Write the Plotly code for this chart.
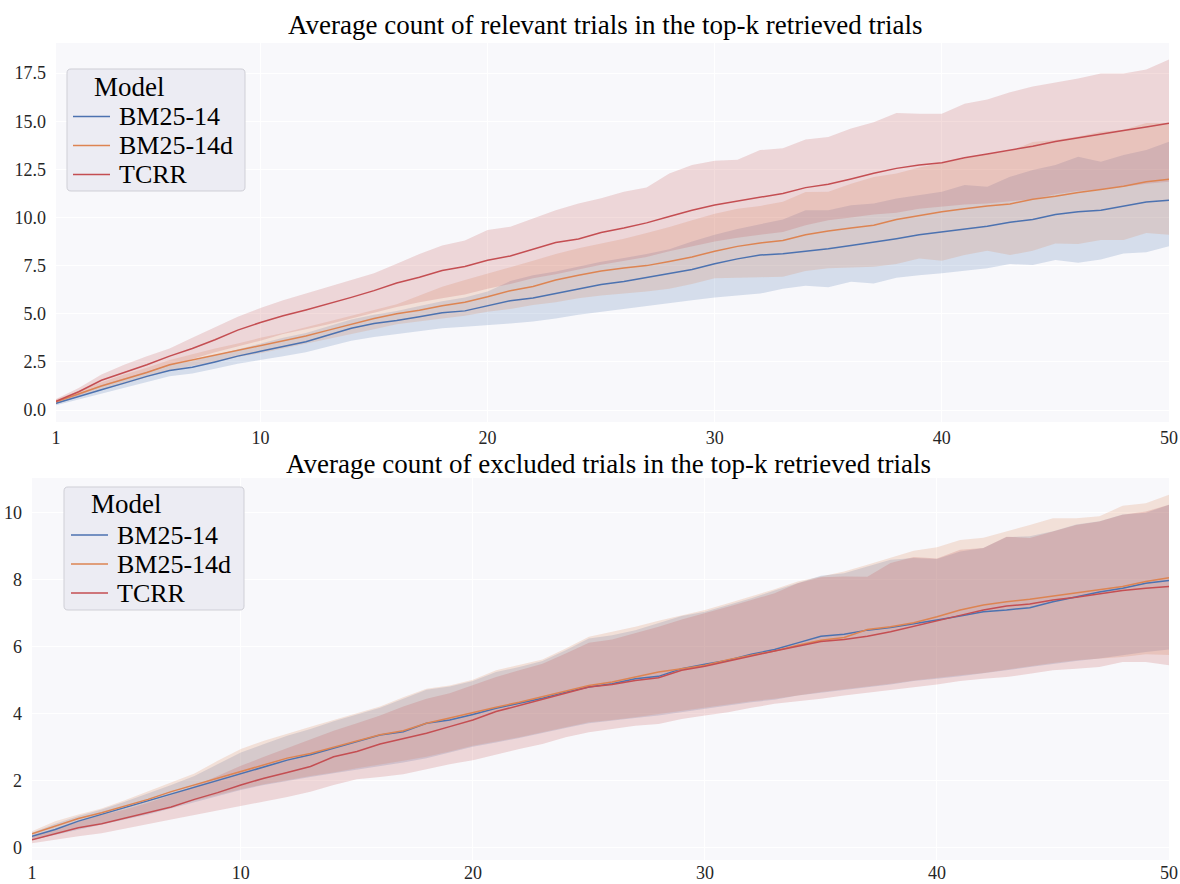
import plotly.graph_objects as go

# ---------------------------------------------------------------------------
# Data: average count of trials in the top-k retrieved set, k = 1..50
# (mean with lower / upper confidence bounds per model)
# ---------------------------------------------------------------------------
k = list(range(1, 51))
models = ["BM25-14", "BM25-14d", "TCRR"]

# --- relevant trials -------------------------------------------------------
rel_bm25_mean = [0.35, 0.72, 1.05, 1.40, 1.75, 2.05, 2.22, 2.50, 2.80, 3.05,
                 3.30, 3.55, 3.90, 4.25, 4.50, 4.65, 4.85, 5.05, 5.15, 5.40,
                 5.68, 5.82, 6.05, 6.30, 6.52, 6.68, 6.88, 7.10, 7.30, 7.60,
                 7.85, 8.05, 8.12, 8.25, 8.38, 8.55, 8.72, 8.90, 9.10, 9.26,
                 9.42, 9.55, 9.75, 9.90, 10.15, 10.30, 10.38, 10.60, 10.80, 10.90]
rel_bm25_hi = [0.45, 0.88, 1.30, 1.65, 2.00, 2.35, 2.55, 2.85, 3.15, 3.45,
               3.75, 4.00, 4.35, 4.70, 4.95, 5.15, 5.40, 5.65, 5.85, 6.15,
               6.70, 7.00, 7.20, 7.45, 7.70, 7.90, 8.10, 8.35, 8.75, 9.10,
               9.40, 9.65, 9.90, 10.38, 10.38, 10.64, 10.73, 10.99, 11.16, 11.34,
               11.68, 11.60, 12.11, 12.46, 12.72, 13.15, 12.89, 13.24, 13.50, 13.93]
rel_bm25_lo = [0.25, 0.55, 0.85, 1.15, 1.45, 1.75, 1.90, 2.15, 2.40, 2.60,
               2.80, 3.00, 3.30, 3.60, 3.80, 3.95, 4.10, 4.25, 4.32, 4.40,
               4.50, 4.60, 4.75, 4.95, 5.10, 5.25, 5.40, 5.55, 5.70, 5.85,
               5.95, 6.05, 6.30, 6.45, 6.38, 6.66, 6.57, 6.87, 7.00, 7.10,
               7.22, 7.36, 7.58, 7.53, 7.79, 7.65, 7.82, 8.13, 8.19, 8.50]

rel_bm25d_mean = [0.43, 0.85, 1.25, 1.60, 1.95, 2.35, 2.60, 2.85, 3.10, 3.35,
                  3.62, 3.85, 4.15, 4.45, 4.75, 5.00, 5.18, 5.42, 5.60, 5.88,
                  6.20, 6.42, 6.75, 7.00, 7.22, 7.38, 7.50, 7.72, 7.95, 8.25,
                  8.50, 8.68, 8.80, 9.10, 9.30, 9.45, 9.60, 9.90, 10.12, 10.30,
                  10.45, 10.60, 10.70, 10.95, 11.10, 11.30, 11.45, 11.62, 11.85, 11.98]
rel_bm25d_hi = [0.55, 1.00, 1.45, 1.85, 2.20, 2.60, 2.90, 3.20, 3.45, 3.75,
                4.00, 4.30, 4.60, 4.90, 5.20, 5.50, 5.95, 6.40, 6.75, 7.10,
                7.42, 7.75, 8.10, 8.40, 8.65, 8.90, 9.20, 9.50, 9.85, 10.20,
                10.45, 10.60, 10.82, 11.32, 11.34, 11.75, 12.10, 12.28, 12.60, 12.84,
                13.05, 13.30, 13.45, 13.92, 14.02, 14.20, 14.45, 14.55, 14.90, 14.90]
rel_bm25d_lo = [0.30, 0.70, 1.05, 1.35, 1.70, 2.05, 2.30, 2.50, 2.75, 2.95,
                3.20, 3.45, 3.70, 3.95, 4.20, 4.45, 4.60, 4.75, 4.90, 5.10,
                5.25, 5.45, 5.60, 5.80, 5.95, 6.05, 6.15, 6.30, 6.55, 6.85,
                6.88, 6.90, 6.92, 7.22, 7.36, 7.40, 7.44, 7.58, 7.87, 7.75,
                8.05, 8.27, 8.05, 8.27, 8.65, 8.62, 8.83, 8.83, 9.20, 9.10]

rel_tcrr_mean = [0.45, 0.95, 1.55, 1.95, 2.35, 2.80, 3.20, 3.65, 4.15, 4.55,
                 4.90, 5.20, 5.52, 5.85, 6.20, 6.60, 6.90, 7.25, 7.45, 7.78,
                 8.00, 8.35, 8.70, 8.88, 9.22, 9.45, 9.72, 10.05, 10.38, 10.65,
                 10.85, 11.05, 11.25, 11.55, 11.72, 12.00, 12.30, 12.55, 12.72, 12.84,
                 13.10, 13.30, 13.50, 13.70, 13.95, 14.15, 14.35, 14.52, 14.70, 14.89]
rel_tcrr_hi = [0.58, 1.15, 1.85, 2.35, 2.80, 3.20, 3.75, 4.30, 4.85, 5.30,
               5.70, 6.05, 6.40, 6.75, 7.10, 7.60, 8.10, 8.55, 8.80, 9.35,
               9.52, 9.95, 10.38, 10.72, 11.00, 11.34, 11.56, 12.28, 12.72, 12.94,
               13.00, 13.50, 13.60, 14.05, 14.18, 14.62, 14.95, 15.42, 15.38, 15.38,
               15.90, 16.13, 16.50, 16.80, 17.00, 17.22, 17.48, 17.48, 17.68, 18.20]
rel_tcrr_lo = [0.32, 0.75, 1.25, 1.60, 1.95, 2.30, 2.65, 3.00, 3.30, 3.60,
               3.95, 4.20, 4.45, 4.75, 5.05, 5.35, 5.60, 5.80, 6.00, 6.30,
               6.55, 6.85, 7.05, 7.30, 7.55, 7.75, 7.95, 8.25, 8.50, 8.75,
               8.95, 9.10, 9.25, 9.60, 9.85, 10.00, 10.15, 10.25, 10.45, 10.58,
               10.68, 10.72, 10.82, 10.95, 11.20, 11.38, 11.45, 11.60, 11.75, 11.85]

# --- excluded trials -------------------------------------------------------
exc_bm25_mean = [0.35, 0.55, 0.80, 1.00, 1.20, 1.42, 1.62, 1.82, 2.02, 2.22,
                 2.42, 2.62, 2.78, 2.97, 3.17, 3.37, 3.47, 3.72, 3.82, 3.98,
                 4.17, 4.32, 4.47, 4.65, 4.80, 4.90, 5.05, 5.12, 5.35, 5.48,
                 5.60, 5.78, 5.92, 6.12, 6.32, 6.38, 6.50, 6.58, 6.68, 6.80,
                 6.92, 7.05, 7.10, 7.17, 7.35, 7.50, 7.64, 7.75, 7.90, 7.98]
exc_bm25_hi = [0.45, 0.72, 0.95, 1.15, 1.38, 1.62, 1.88, 2.15, 2.50, 2.85,
               3.10, 3.35, 3.55, 3.78, 3.98, 4.18, 4.45, 4.72, 4.82, 4.98,
               5.25, 5.40, 5.58, 5.90, 6.25, 6.35, 6.50, 6.70, 6.92, 7.05,
               7.25, 7.45, 7.68, 7.90, 8.12, 8.20, 8.40, 8.60, 8.65, 8.62,
               8.85, 8.95, 9.28, 9.30, 9.45, 9.65, 9.75, 9.95, 10.00, 10.24]
exc_bm25_lo = [0.24, 0.40, 0.55, 0.70, 0.85, 1.00, 1.18, 1.35, 1.55, 1.73,
               1.88, 2.00, 2.12, 2.23, 2.35, 2.45, 2.55, 2.68, 2.85, 3.02,
               3.15, 3.28, 3.42, 3.58, 3.72, 3.80, 3.88, 3.95, 4.05, 4.15,
               4.25, 4.35, 4.42, 4.55, 4.62, 4.70, 4.80, 4.88, 4.98, 5.05,
               5.12, 5.20, 5.30, 5.40, 5.50, 5.58, 5.65, 5.75, 5.85, 5.92]

exc_bm25d_mean = [0.42, 0.66, 0.88, 1.05, 1.25, 1.45, 1.68, 1.88, 2.10, 2.30,
                  2.50, 2.68, 2.82, 3.00, 3.18, 3.38, 3.50, 3.72, 3.88, 4.05,
                  4.20, 4.35, 4.52, 4.70, 4.85, 4.95, 5.10, 5.25, 5.35, 5.45,
                  5.62, 5.75, 5.88, 6.05, 6.20, 6.28, 6.52, 6.60, 6.72, 6.90,
                  7.10, 7.25, 7.35, 7.42, 7.52, 7.62, 7.72, 7.80, 7.95, 8.06]
exc_bm25d_hi = [0.50, 0.80, 1.00, 1.18, 1.42, 1.68, 1.95, 2.22, 2.60, 2.95,
                3.20, 3.42, 3.62, 3.82, 4.02, 4.22, 4.50, 4.75, 4.85, 5.02,
                5.30, 5.45, 5.62, 5.95, 6.30, 6.45, 6.60, 6.78, 6.95, 7.10,
                7.30, 7.50, 7.72, 7.95, 8.10, 8.25, 8.45, 8.65, 8.87, 8.97,
                9.19, 9.26, 9.44, 9.64, 9.84, 9.84, 9.90, 10.21, 10.29, 10.54]
exc_bm25d_lo = [0.28, 0.45, 0.60, 0.75, 0.90, 1.05, 1.22, 1.40, 1.58, 1.75,
                1.90, 2.02, 2.15, 2.25, 2.38, 2.50, 2.60, 2.72, 2.88, 3.05,
                3.18, 3.30, 3.45, 3.60, 3.75, 3.82, 3.90, 3.98, 4.08, 4.18,
                4.28, 4.38, 4.45, 4.55, 4.65, 4.72, 4.82, 4.90, 5.00, 5.08,
                5.15, 5.22, 5.32, 5.42, 5.52, 5.60, 5.65, 5.70, 5.78, 5.76]

exc_tcrr_mean = [0.24, 0.42, 0.60, 0.72, 0.88, 1.04, 1.22, 1.45, 1.65, 1.88,
                 2.08, 2.25, 2.43, 2.72, 2.88, 3.10, 3.27, 3.42, 3.62, 3.82,
                 4.07, 4.25, 4.42, 4.62, 4.80, 4.88, 5.00, 5.08, 5.30, 5.42,
                 5.58, 5.72, 5.88, 6.02, 6.16, 6.22, 6.32, 6.45, 6.62, 6.78,
                 6.94, 7.10, 7.22, 7.28, 7.40, 7.48, 7.58, 7.68, 7.75, 7.80]
exc_tcrr_hi = [0.35, 0.55, 0.78, 0.98, 1.15, 1.35, 1.58, 1.85, 2.15, 2.45,
               2.72, 2.98, 3.25, 3.50, 3.72, 3.95, 4.22, 4.45, 4.62, 4.85,
               5.10, 5.30, 5.50, 5.80, 6.12, 6.22, 6.40, 6.60, 6.82, 7.00,
               7.20, 7.40, 7.60, 7.90, 8.08, 8.10, 8.09, 8.50, 8.68, 8.64,
               8.90, 8.95, 9.29, 9.25, 9.44, 9.64, 9.74, 9.94, 10.04, 10.24]
exc_tcrr_lo = [0.14, 0.25, 0.35, 0.44, 0.58, 0.72, 0.85, 0.98, 1.10, 1.25,
               1.38, 1.52, 1.68, 1.88, 2.05, 2.12, 2.20, 2.35, 2.50, 2.62,
               2.78, 2.95, 3.10, 3.30, 3.45, 3.55, 3.65, 3.70, 3.85, 3.95,
               4.05, 4.18, 4.30, 4.38, 4.45, 4.55, 4.62, 4.70, 4.80, 4.88,
               4.98, 5.05, 5.10, 5.20, 5.30, 5.35, 5.40, 5.55, 5.55, 5.45]

# axis ticks
x_ticks = [1, 10, 20, 30, 40, 50]
rel_y_ticks = [0, 2.5, 5, 7.5, 10, 12.5, 15, 17.5]
exc_y_ticks = [0, 2, 4, 6, 8, 10]

titles = ["Average count of relevant trials in the top-k retrieved trials",
          "Average count of excluded trials in the top-k retrieved trials"]

# ---------------------------------------------------------------------------
# Styling
# ---------------------------------------------------------------------------
W, H = 1180, 884
FONT = "Liberation Serif"
RGB = {"BM25-14": (76, 114, 176), "BM25-14d": (221, 132, 82), "TCRR": (196, 78, 82)}


def rgba(c, a):
    return f"rgba({c[0]},{c[1]},{c[2]},{a})"


def px(x):
    return x / W


def py(y):
    return 1 - y / H


panels = [
    dict(xa="x", ya="y",
         series={"BM25-14": (rel_bm25_lo, rel_bm25_mean, rel_bm25_hi),
                 "BM25-14d": (rel_bm25d_lo, rel_bm25d_mean, rel_bm25d_hi),
                 "TCRR": (rel_tcrr_lo, rel_tcrr_mean, rel_tcrr_hi)}),
    dict(xa="x2", ya="y2",
         series={"BM25-14": (exc_bm25_lo, exc_bm25_mean, exc_bm25_hi),
                 "BM25-14d": (exc_bm25d_lo, exc_bm25d_mean, exc_bm25d_hi),
                 "TCRR": (exc_tcrr_lo, exc_tcrr_mean, exc_tcrr_hi)}),
]

fig = go.Figure()
for p in panels:
    # confidence bands
    for m in models:
        lo, mean, hi = p["series"][m]
        fig.add_trace(go.Scatter(
            x=k + k[::-1], y=hi + lo[::-1], fill="toself",
            fillcolor=rgba(RGB[m], 0.2), line=dict(width=0), mode="lines",
            hoverinfo="skip", showlegend=False, xaxis=p["xa"], yaxis=p["ya"]))
    # mean lines
    for m in models:
        lo, mean, hi = p["series"][m]
        fig.add_trace(go.Scatter(
            x=k, y=mean, mode="lines", name=m, showlegend=False,
            line=dict(color=rgba(RGB[m], 1), width=1.5),
            xaxis=p["xa"], yaxis=p["ya"]))

axis_common = dict(showgrid=True, gridcolor="white", gridwidth=1, zeroline=False,
                   showline=False, ticks="", automargin=False,
                   tickfont=dict(family=FONT, size=18, color="#262626"))

fig.update_layout(
    width=W, height=H, margin=dict(l=0, r=0, t=0, b=0, autoexpand=False),
    paper_bgcolor="white", plot_bgcolor="rgb(248,248,251)",
    showlegend=False,
    xaxis=dict(axis_common, domain=[px(56), px(1169)], anchor="y",
               range=[1, 50], tickvals=x_ticks, ticklabelstandoff=3),
    yaxis=dict(axis_common, domain=[py(422), py(43)], anchor="x",
               range=[-0.62, 19.06], tickvals=rel_y_ticks, tickformat=".1f",
               ticklabelstandoff=9),
    xaxis2=dict(axis_common, domain=[px(32), px(1169)], anchor="y2",
                range=[1, 50], tickvals=x_ticks, ticklabelstandoff=0),
    yaxis2=dict(axis_common, domain=[py(860), py(478)], anchor="x2",
                range=[-0.36, 11.04], tickvals=exc_y_ticks, ticklabelstandoff=9),
)

# panel titles
for text, (cx, cy) in zip(titles, [(605, 25), (608, 464)]):
    fig.add_annotation(text=text, x=px(cx), y=py(cy), xref="paper", yref="paper",
                       xanchor="center", yanchor="middle", showarrow=False,
                       font=dict(family=FONT, size=27, color="black"))


# legends drawn as a rounded box with line samples and labels
def rounded_box(x0, y0, x1, y1, r=4):
    X = lambda v: f"{px(v):.5f}"
    Y = lambda v: f"{py(v):.5f}"
    return (f"M {X(x0 + r)},{Y(y0)} L {X(x1 - r)},{Y(y0)} Q {X(x1)},{Y(y0)} {X(x1)},{Y(y0 + r)} "
            f"L {X(x1)},{Y(y1 - r)} Q {X(x1)},{Y(y1)} {X(x1 - r)},{Y(y1)} "
            f"L {X(x0 + r)},{Y(y1)} Q {X(x0)},{Y(y1)} {X(x0)},{Y(y1 - r)} "
            f"L {X(x0)},{Y(y0 + r)} Q {X(x0)},{Y(y0)} {X(x0 + r)},{Y(y0)} Z")


LEGEND_FONT = 26
legend_boxes = [
    dict(box=(67, 69, 245, 191), title=(92, 87), line_x=(73, 110), text_x=117,
         rows=[116.5, 145.5, 174.5]),
    dict(box=(64, 487, 244, 610), title=(89, 504), line_x=(71, 108), text_x=115,
         rows=[535, 564, 593]),
]
for lg in legend_boxes:
    x0, y0, x1, y1 = lg["box"]
    fig.add_shape(type="path", path=rounded_box(x0, y0, x1, y1), xref="paper", yref="paper",
                  fillcolor="rgba(234,234,242,0.92)", line=dict(color="#cfcfd6", width=1),
                  layer="above")
    fig.add_annotation(text="Model", x=px(lg["title"][0]), y=py(lg["title"][1]),
                       xref="paper", yref="paper", xanchor="left", yanchor="middle",
                       showarrow=False, font=dict(family=FONT, size=LEGEND_FONT + 1, color="black"))
    for m, ry in zip(models, lg["rows"]):
        fig.add_shape(type="line", xref="paper", yref="paper",
                      x0=px(lg["line_x"][0]), x1=px(lg["line_x"][1]), y0=py(ry), y1=py(ry),
                      line=dict(color=rgba(RGB[m], 1), width=1.5), layer="above")
        fig.add_annotation(text=m, x=px(lg["text_x"]), y=py(ry), xref="paper", yref="paper",
                           xanchor="left", yanchor="middle", showarrow=False,
                           font=dict(family=FONT, size=LEGEND_FONT, color="black"))

# page without body margin or scrollbars so the figure sits at the origin
fig.write_html(
    "out.html",
    post_script="document.body.style.margin='0';"
                "document.documentElement.style.overflow='hidden';",
)
